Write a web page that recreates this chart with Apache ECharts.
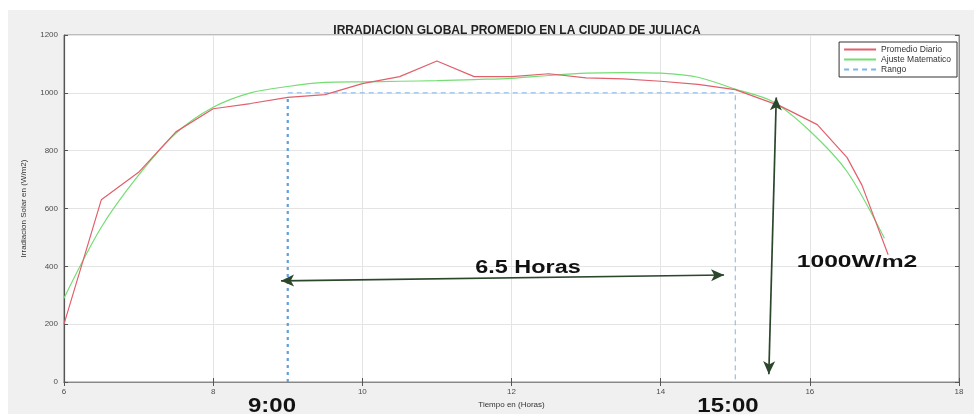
<!DOCTYPE html>
<html>
<head>
<meta charset="utf-8">
<script src="https://cdn.jsdelivr.net/npm/echarts@6/dist/echarts.min.js"></script>
<style>
  html, body { margin: 0; padding: 0; background: #ffffff; }
  #chart { width: 974px; height: 414px; }
</style>
</head>
<body>
<div id="chart"></div>
<script>
// Irradiación medida (promedio diario) por hora
const horasPromedio = [6.0, 6.5, 7.0, 7.5, 8.0, 8.5, 9.0, 9.5, 10.0, 10.5, 11.0, 11.5, 12.0, 12.5, 13.0, 13.5, 14.0, 14.5, 15.0, 15.6, 16.1, 16.5, 16.7, 17.05];
const promedioDiario = [200, 630, 725, 865, 945, 963, 984, 994, 1032, 1056, 1110, 1056, 1056, 1066, 1052, 1048, 1040, 1029, 1011, 955, 890, 776, 680, 440];

// Curva del ajuste matemático
const horasAjuste = [6.0, 6.5, 7.0, 7.5, 8.0, 8.5, 9.0, 9.5, 10.0, 10.5, 11.0, 11.5, 12.0, 12.5, 13.0, 13.5, 14.0, 14.5, 15.0, 15.5, 16.0, 16.5, 17.0];
const ajusteMatematico = [290, 535, 715, 860, 950, 1000, 1022, 1036, 1038, 1040, 1042, 1046, 1050, 1060, 1068, 1070, 1068, 1054, 1013, 970, 868, 727, 497];

// Rango de horas con irradiación >= 1000 W/m2
const horasRango = [9, 15, 15];
const rango = [1000, 1000, 0];
const horasCorte = [9, 9];
const corte = [0, 984];

// Flechas de anotación [hora, valor]
const flechaHoras = [[8.91, 350], [14.85, 370]];
const flechaIrradiacion = [[15.55, 984], [15.45, 27]];

const ticksX = [6, 8, 10, 12, 14, 16, 18];
const ticksY = [0, 200, 400, 600, 800, 1000, 1200];

const pares = (xs, ys) => xs.map((x, i) => [x, ys[i]]);

const chart = echarts.init(document.getElementById('chart'), null, { renderer: 'canvas' });

const gridL = 64, gridR = 15, gridT = 35, gridB = 29;
const tickFont = { fontSize: 8, color: '#4d4d4d', fontFamily: 'Liberation Sans, Arial, sans-serif' };

const flechaEstilo = {
  silent: true,
  symbol: ['arrow', 'arrow'],
  symbolSize: [9, 13],
  label: { show: false },
  lineStyle: { color: '#2c472c', width: 1.7, type: 'solid' },
  emphasis: { disabled: true }
};

chart.setOption({
  animation: false,
  textStyle: { fontFamily: 'Liberation Sans, Arial, sans-serif' },
  title: {
    text: 'IRRADIACION GLOBAL PROMEDIO EN LA CIUDAD DE JULIACA',
    left: 512,
    textAlign: 'center',
    top: 20,
    textStyle: { fontSize: 12, fontWeight: 'bold', color: '#222' }
  },
  legend: {
    data: ['Promedio Diario', 'Ajuste Matematico', 'Rango'],
    orient: 'vertical',
    right: 17,
    top: 42,
    padding: [3, 6, 3, 4],
    itemGap: 1,
    itemWidth: 32,
    itemHeight: 8,
    itemStyle: { color: 'transparent', borderWidth: 0 },
    backgroundColor: '#ffffff',
    borderColor: '#333333',
    borderWidth: 1,
    textStyle: { fontSize: 8.5, color: '#333' }
  },
  grid: {
    left: gridL, right: gridR, top: gridT, bottom: gridB,
    show: true, backgroundColor: '#ffffff', borderColor: '#8a8a8a', borderWidth: 1
  },
  xAxis: [{
    type: 'value', min: 6, max: 18, interval: 2,
    name: 'Tiempo en (Horas)', nameLocation: 'middle', nameGap: 19,
    nameTextStyle: { fontSize: 8, color: '#333' },
    axisLine: { show: true, lineStyle: { color: '#555', width: 1.2 } },
    axisTick: { show: true, inside: true, length: 4, lineStyle: { color: '#555' } },
    axisLabel: Object.assign({ margin: 6, formatter: v => ticksX.includes(v) ? String(v) : '' }, tickFont),
    splitLine: { show: true, lineStyle: { color: '#e4e4e4', width: 1 } }
  }, {
    type: 'value', min: 6, max: 18, interval: 2, position: 'top',
    axisLine: { show: true, lineStyle: { color: '#888' } },
    axisTick: { show: true, inside: true, length: 4, lineStyle: { color: '#555' } },
    axisLabel: { show: false }, splitLine: { show: false }
  }],
  yAxis: [{
    type: 'value', min: 0, max: 1200, interval: 200,
    name: 'Irradiacion Solar en (W/m2)', nameLocation: 'middle', nameGap: 36,
    nameTextStyle: { fontSize: 8, color: '#333' },
    axisLine: { show: true, lineStyle: { color: '#555', width: 1.2 } },
    axisTick: { show: true, inside: true, length: 4, lineStyle: { color: '#555' } },
    axisLabel: Object.assign({ margin: 6, formatter: v => ticksY.includes(v) ? String(v) : '' }, tickFont),
    splitLine: { show: true, lineStyle: { color: '#e4e4e4', width: 1 } }
  }, {
    type: 'value', min: 0, max: 1200, interval: 200, position: 'right',
    axisLine: { show: true, lineStyle: { color: '#888' } },
    axisTick: { show: true, inside: true, length: 4, lineStyle: { color: '#555' } },
    axisLabel: { show: false }, splitLine: { show: false }
  }],
  series: [
    {
      name: 'Promedio Diario', type: 'line', showSymbol: false, symbol: 'none',
      data: pares(horasPromedio, promedioDiario),
      lineStyle: { color: '#e0606c', width: 1.2 }, itemStyle: { color: '#e0606c' }, z: 4
    },
    {
      name: 'Ajuste Matematico', type: 'line', showSymbol: false, symbol: 'none', smooth: 0.3,
      data: pares(horasAjuste, ajusteMatematico),
      lineStyle: { color: '#74dd74', width: 1.2 }, itemStyle: { color: '#74dd74' }, z: 3
    },
    {
      name: 'Rango', type: 'line', showSymbol: false, symbol: 'none',
      data: pares(horasRango, rango),
      lineStyle: { color: '#7fb4e6', width: 1, type: [5, 4] }, itemStyle: { color: '#7fb4e6' }, z: 2,
      markLine: Object.assign({
        data: [
          [{ coord: flechaHoras[0] }, { coord: flechaHoras[1] }],
          [{ coord: flechaIrradiacion[0] }, { coord: flechaIrradiacion[1] }]
        ]
      }, flechaEstilo)
    },
    {
      name: 'corte', type: 'line', showSymbol: false, symbol: 'none',
      data: pares(horasCorte, corte),
      lineStyle: { color: '#5d9fe0', width: 2.2, type: [3, 4] }, z: 2
    }
  ],
  graphic: [
    { type: 'rect', left: 8, top: 10, z: -10, silent: true,
      shape: { width: 966, height: 404 }, style: { fill: '#f0f0f0' } },
    { type: 'text', x: 528, y: 268, z: 20, scaleX: 1.3, silent: true,
      style: { text: '6.5 Horas', font: 'bold 18px "Liberation Sans", Arial, sans-serif',
               fill: '#111', textAlign: 'center', textVerticalAlign: 'middle' } },
    { type: 'text', x: 857, y: 262, z: 20, scaleX: 1.45, silent: true,
      style: { text: '1000W/m2', font: 'bold 17px "Liberation Sans", Arial, sans-serif',
               fill: '#111', textAlign: 'center', textVerticalAlign: 'middle' } },
    { type: 'text', x: 272, y: 406, z: 20, scaleX: 1.2, silent: true,
      style: { text: '9:00', font: 'bold 20px "Liberation Sans", Arial, sans-serif',
               fill: '#111', textAlign: 'center', textVerticalAlign: 'middle' } },
    { type: 'text', x: 728, y: 406, z: 20, scaleX: 1.2, silent: true,
      style: { text: '15:00', font: 'bold 20px "Liberation Sans", Arial, sans-serif',
               fill: '#111', textAlign: 'center', textVerticalAlign: 'middle' } }
  ]
});
</script>
</body>
</html>
